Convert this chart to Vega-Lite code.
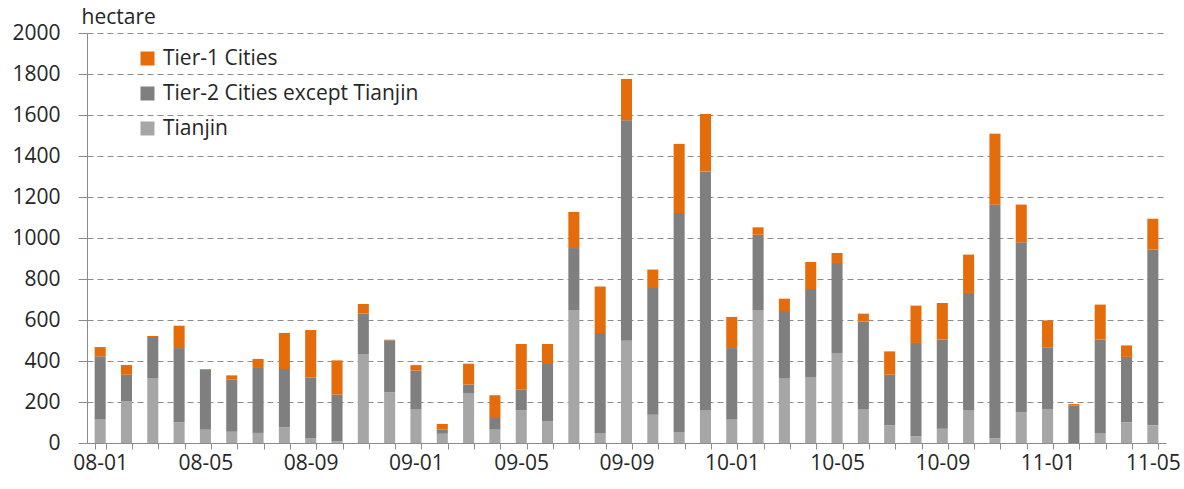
{
  "$schema": "https://vega.github.io/schema/vega-lite/v6.json",
  "width": 1079,
  "height": 410,
  "autosize": "none",
  "padding": {"left": 87, "top": 33, "right": 18, "bottom": 46},
  "background": "white",
  "config": {
    "font": "Open Sans",
    "view": {"stroke": null}
  },
  "data": {
    "values": [
      {"month": "08-01", "Tianjin": 117, "Tier-2 Cities except Tianjin": 306, "Tier-1 Cities": 45},
      {"month": "08-02", "Tianjin": 203, "Tier-2 Cities except Tianjin": 130, "Tier-1 Cities": 47},
      {"month": "08-03", "Tianjin": 317, "Tier-2 Cities except Tianjin": 200, "Tier-1 Cities": 5},
      {"month": "08-04", "Tianjin": 101, "Tier-2 Cities except Tianjin": 362, "Tier-1 Cities": 109},
      {"month": "08-05", "Tianjin": 65, "Tier-2 Cities except Tianjin": 293, "Tier-1 Cities": 3},
      {"month": "08-06", "Tianjin": 55, "Tier-2 Cities except Tianjin": 254, "Tier-1 Cities": 21},
      {"month": "08-07", "Tianjin": 49, "Tier-2 Cities except Tianjin": 317, "Tier-1 Cities": 44},
      {"month": "08-08", "Tianjin": 76, "Tier-2 Cities except Tianjin": 285, "Tier-1 Cities": 176},
      {"month": "08-09", "Tianjin": 24, "Tier-2 Cities except Tianjin": 296, "Tier-1 Cities": 231},
      {"month": "08-10", "Tianjin": 8, "Tier-2 Cities except Tianjin": 228, "Tier-1 Cities": 167},
      {"month": "08-11", "Tianjin": 434, "Tier-2 Cities except Tianjin": 197, "Tier-1 Cities": 47},
      {"month": "08-12", "Tianjin": 247, "Tier-2 Cities except Tianjin": 254, "Tier-1 Cities": 3},
      {"month": "09-01", "Tianjin": 163, "Tier-2 Cities except Tianjin": 190, "Tier-1 Cities": 27},
      {"month": "09-02", "Tianjin": 45, "Tier-2 Cities except Tianjin": 20, "Tier-1 Cities": 28},
      {"month": "09-03", "Tianjin": 244, "Tier-2 Cities except Tianjin": 41, "Tier-1 Cities": 102},
      {"month": "09-04", "Tianjin": 65, "Tier-2 Cities except Tianjin": 57, "Tier-1 Cities": 111},
      {"month": "09-05", "Tianjin": 159, "Tier-2 Cities except Tianjin": 101, "Tier-1 Cities": 223},
      {"month": "09-06", "Tianjin": 107, "Tier-2 Cities except Tianjin": 283, "Tier-1 Cities": 93},
      {"month": "09-07", "Tianjin": 647, "Tier-2 Cities except Tianjin": 304, "Tier-1 Cities": 176},
      {"month": "09-08", "Tianjin": 49, "Tier-2 Cities except Tianjin": 488, "Tier-1 Cities": 227},
      {"month": "09-09", "Tianjin": 499, "Tier-2 Cities except Tianjin": 1075, "Tier-1 Cities": 202},
      {"month": "09-10", "Tianjin": 138, "Tier-2 Cities except Tianjin": 618, "Tier-1 Cities": 90},
      {"month": "09-11", "Tianjin": 54, "Tier-2 Cities except Tianjin": 1068, "Tier-1 Cities": 337},
      {"month": "09-12", "Tianjin": 159, "Tier-2 Cities except Tianjin": 1166, "Tier-1 Cities": 280},
      {"month": "10-01", "Tianjin": 114, "Tier-2 Cities except Tianjin": 349, "Tier-1 Cities": 152},
      {"month": "10-02", "Tianjin": 647, "Tier-2 Cities except Tianjin": 369, "Tier-1 Cities": 36},
      {"month": "10-03", "Tianjin": 314, "Tier-2 Cities except Tianjin": 330, "Tier-1 Cities": 60},
      {"month": "10-04", "Tianjin": 322, "Tier-2 Cities except Tianjin": 429, "Tier-1 Cities": 132},
      {"month": "10-05", "Tianjin": 439, "Tier-2 Cities except Tianjin": 439, "Tier-1 Cities": 49},
      {"month": "10-06", "Tianjin": 166, "Tier-2 Cities except Tianjin": 427, "Tier-1 Cities": 38},
      {"month": "10-07", "Tianjin": 86, "Tier-2 Cities except Tianjin": 247, "Tier-1 Cities": 114},
      {"month": "10-08", "Tianjin": 33, "Tier-2 Cities except Tianjin": 455, "Tier-1 Cities": 182},
      {"month": "10-09", "Tianjin": 70, "Tier-2 Cities except Tianjin": 434, "Tier-1 Cities": 179},
      {"month": "10-10", "Tianjin": 159, "Tier-2 Cities except Tianjin": 573, "Tier-1 Cities": 187},
      {"month": "10-11", "Tianjin": 24, "Tier-2 Cities except Tianjin": 1139, "Tier-1 Cities": 346},
      {"month": "10-12", "Tianjin": 151, "Tier-2 Cities except Tianjin": 828, "Tier-1 Cities": 184},
      {"month": "11-01", "Tianjin": 166, "Tier-2 Cities except Tianjin": 301, "Tier-1 Cities": 131},
      {"month": "11-02", "Tianjin": 0, "Tier-2 Cities except Tianjin": 182, "Tier-1 Cities": 8},
      {"month": "11-03", "Tianjin": 49, "Tier-2 Cities except Tianjin": 455, "Tier-1 Cities": 171},
      {"month": "11-04", "Tianjin": 101, "Tier-2 Cities except Tianjin": 319, "Tier-1 Cities": 56},
      {"month": "11-05", "Tianjin": 86, "Tier-2 Cities except Tianjin": 857, "Tier-1 Cities": 151}
    ]
  },
  "transform": [
    {"fold": ["Tianjin", "Tier-2 Cities except Tianjin", "Tier-1 Cities"], "as": ["series", "value"]},
    {"calculate": "indexof(['Tianjin','Tier-2 Cities except Tianjin','Tier-1 Cities'], datum.series)", "as": "stackOrder"}
  ],
  "mark": {"type": "bar"},
  "encoding": {
    "x": {
      "field": "month",
      "type": "ordinal",
      "sort": null,
      "scale": {"paddingInner": 0.58, "paddingOuter": 0.29},
      "axis": {
        "title": null,
        "labelAngle": 0,
        "labelExpr": "indexof(['01','05','09'], substring(datum.value, 3, 5)) >= 0 ? datum.value : ''",
        "labelOverlap": false,
        "labelFontSize": 21,
        "labelColor": "#262626",
        "labelPadding": 3,
        "tickBand": "extent",
        "tickSize": 6,
        "tickColor": "#8c8c8c",
        "domainColor": "#8c8c8c",
        "grid": false
      }
    },
    "y": {
      "field": "value",
      "type": "quantitative",
      "stack": "zero",
      "scale": {"domain": [0, 2000], "nice": false},
      "axis": {
        "title": "hectare",
        "titleAngle": 0,
        "titleX": -6,
        "titleY": -10,
        "titleAlign": "left",
        "titleBaseline": "alphabetic",
        "titleFontSize": 21,
        "titleFontWeight": "normal",
        "titleColor": "#262626",
        "values": [0, 200, 400, 600, 800, 1000, 1200, 1400, 1600, 1800, 2000],
        "format": "d",
        "labelFontSize": 21,
        "labelColor": "#262626",
        "labelPadding": 18,
        "tickSize": 9,
        "tickColor": "#8c8c8c",
        "domainColor": "#8c8c8c",
        "grid": true,
        "gridColor": "#8c8c8c",
        "gridDash": [6, 4],
        "gridWidth": 1
      }
    },
    "color": {
      "field": "series",
      "type": "nominal",
      "scale": {
        "domain": ["Tier-1 Cities", "Tier-2 Cities except Tianjin", "Tianjin"],
        "range": ["#E46C0A", "#7F7F7F", "#A6A6A6"]
      },
      "legend": {
        "title": null,
        "orient": "none",
        "legendX": 50,
        "legendY": 15,
        "symbolType": "square",
        "symbolSize": 196,
        "symbolStrokeWidth": 0,
        "labelFontSize": 21,
        "labelLimit": 0,
        "labelColor": "#262626",
        "labelOffset": 5,
        "rowPadding": 13
      }
    },
    "order": {"field": "stackOrder", "type": "quantitative"}
  }
}
